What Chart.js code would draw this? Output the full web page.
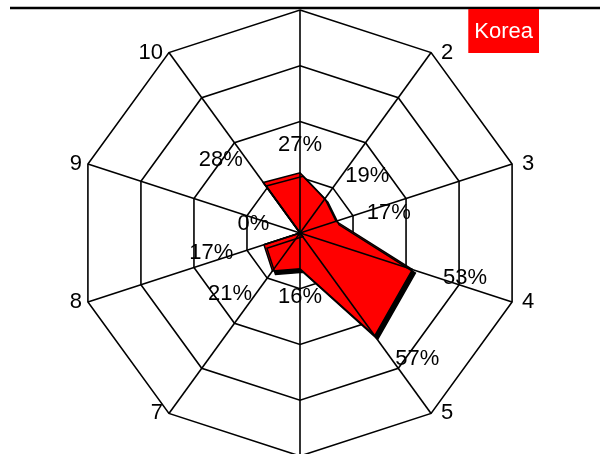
<!DOCTYPE html>
<html>
<head>
<meta charset="utf-8">
<script src="https://cdn.jsdelivr.net/npm/chart.js@4/dist/chart.umd.min.js"></script>
<style>
	html, body { margin: 0; padding: 0; overflow: hidden; background: #fff; }
	#wrap { width: 600px; height: 456px; }
</style>
</head>
<body>
<div id="wrap"><canvas id="radarChart"></canvas></div>
<script>
// Chart data
const categories = ['1', '2', '3', '4', '5', '6', '7', '8', '9', '10'];
const seriesName = 'Korea';
const seriesValues = [27, 19, 17, 53, 57, 16, 21, 17, 0, 28];
const rTicks = [0, 25, 50, 75, 100];

const FONT = '22px Arial, "Liberation Sans", sans-serif';
const RED = '#ff0000';

document.addEventListener('DOMContentLoaded', function() {
	const ctx = document.getElementById('radarChart');

	// shadow under the polygon, spokes over it, labels and legend box
	const decorPlugin = {
		id: 'decor',
		beforeDatasetsDraw(chart) {
			const c = chart.ctx;
			c.save();
			c.shadowColor = '#000';
			c.shadowOffsetX = 3;
			c.shadowOffsetY = 3.5;
			c.shadowBlur = 0;
		},
		afterDatasetsDraw(chart) {
			const c = chart.ctx;
			c.restore();
			const scale = chart.scales.r;
			const cx = scale.xCenter, cy = scale.yCenter;

			c.save();
			c.strokeStyle = '#000';
			c.lineWidth = 1.6;
			seriesValues.forEach((v, i) => {
				const p = scale.getPointPositionForValue(i, v);
				c.beginPath();
				c.moveTo(cx, cy);
				c.lineTo(p.x, p.y);
				c.stroke();
			});

			// value labels
			c.font = FONT;
			c.fillStyle = '#000';
			c.textBaseline = 'middle';
			seriesValues.forEach((v, i) => {
				const d = scale.getDistanceFromCenterForValue(v) + 28;
				const p = scale.getPointPosition(i, d);
				let x = p.x;
				if (Math.abs(p.x - cx) < 1) {
					c.textAlign = 'center';
				} else if (p.x > cx) {
					c.textAlign = 'left';
					x += 4;
				} else {
					c.textAlign = 'right';
					x -= 4;
				}
				c.fillText(v + '%', x, p.y);
			});
			c.restore();
		},
		afterDraw(chart) {
			const c = chart.ctx;
			const scale = chart.scales.r;
			const cx = scale.xCenter;
			c.save();

			// top rule
			c.strokeStyle = '#000';
			c.lineWidth = 2.5;
			c.beginPath();
			c.moveTo(10, 8);
			c.lineTo(chart.width, 8);
			c.stroke();

			// category labels
			c.font = FONT;
			c.fillStyle = '#000';
			categories.forEach((lab, i) => {
				const p = scale.getPointPosition(i, scale.drawingArea);
				let x = p.x, y = p.y;
				c.textBaseline = 'middle';
				if (Math.abs(p.x - cx) < 1) {
					c.textAlign = 'center';
					if (p.y < scale.yCenter) { c.textBaseline = 'bottom'; y -= 8; }
					else { c.textBaseline = 'top'; y += 8; }
				} else if (p.x > cx) {
					c.textAlign = 'left';
					x += 10;
				} else {
					c.textAlign = 'right';
					x -= 6;
				}
				c.fillText(lab, x, y);
			});

			// legend box
			const w = c.measureText(seriesName).width + 12;
			const right = chart.width - 61;
			c.fillStyle = RED;
			c.fillRect(right - w, 9, w, 44);
			c.fillStyle = '#fff';
			c.textAlign = 'center';
			c.textBaseline = 'middle';
			c.fillText(seriesName, right - w / 2, 32);
			c.restore();
		}
	};

	new Chart(ctx, {
		type: 'radar',
		data: {
			labels: categories,
			datasets: [{
				label: seriesName,
				data: seriesValues,
				backgroundColor: RED,
				borderColor: '#000',
				borderWidth: 1.5,
				fill: true,
				pointRadius: 0,
				tension: 0
			}]
		},
		options: {
			responsive: true,
			maintainAspectRatio: false,
			animation: false,
			layout: { padding: { top: 10 } },
			plugins: {
				legend: { display: false },
				tooltip: { enabled: false }
			},
			scales: {
				r: {
					min: rTicks[0],
					max: rTicks[rTicks.length - 1],
					ticks: { display: false, stepSize: rTicks[1] - rTicks[0] },
					grid: { color: '#000', lineWidth: 1.6 },
					angleLines: { color: '#000', lineWidth: 1.6 },
					pointLabels: { display: false }
				}
			}
		},
		plugins: [decorPlugin]
	});
});
</script>
</body>
</html>
